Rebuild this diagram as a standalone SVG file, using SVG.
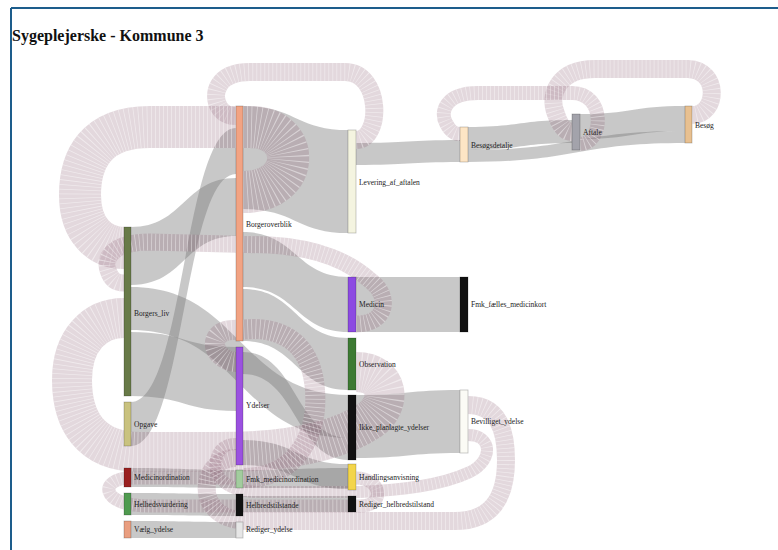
<svg xmlns="http://www.w3.org/2000/svg" xmlns:xlink="http://www.w3.org/1999/xlink" width="778" height="550" viewBox="0 0 778 550">
<style>
.lk{fill:#767676;fill-opacity:0.4;stroke:none}
.lp{fill:none;stroke:#8a5a72;stroke-opacity:0.24}
.sg{fill:none;stroke:#ffffff;stroke-opacity:0.45;stroke-dasharray:0.8 3.2}
.nd{stroke:#000;stroke-opacity:0.25;stroke-width:0.8}
.lb{font-family:"Liberation Serif","Times New Roman",serif;font-size:7.5px;fill:#222}
.tt{font-family:"Liberation Serif","Times New Roman",serif;font-size:16px;font-weight:bold;fill:#111}
</style>
<defs>
<path id="p1" d="M 692 115 C 718 115, 720 70, 688 69 L 595 69 C 558 69, 548 95, 556 114 C 560 126, 565 132, 572 132"/>
<path id="p2" d="M 580 144 C 604 144, 606 93, 572 93 L 478 93 C 445 93, 440 112, 446 123 C 450 131, 454 134, 460 134"/>
<path id="p3" d="M 356 140 C 382 140, 382 72, 345 72 L 250 72 C 216 72, 212 95, 219 107 C 223 114, 229 116, 236 116"/>
<path id="p4" d="M 243 192 C 302 192, 302 127, 250 127 L 150 127 C 95 127, 80 160, 80 195 C 80 230, 100 248, 124 248"/>
<path id="p5" d="M 356 324 C 388 324, 390 296, 372 282 C 350 262, 320 248, 270 245 L 150 242 C 112 242, 104 258, 108 270 C 111 280, 116 283, 124 283"/>
<path id="p6" d="M 356 372 C 390 372, 392 405, 370 420 C 340 440, 290 452, 220 452 L 140 452 C 90 452, 72 420, 72 380 C 72 340, 95 318, 124 318"/>
<path id="p7" d="M 356 478 C 382 478, 386 506, 360 506 L 150 506 C 98 506, 100 478, 130 478 L 236 478"/>
<path id="p8" d="M 243 478 C 300 478, 318 430, 315 390 C 312 350, 290 330, 255 329 L 232 330 C 215 331, 210 345, 220 355 C 225 360, 230 362, 236 362"/>
<path id="p9" d="M 468 405 C 498 405, 506 430, 506 460 C 506 500, 490 521, 455 521 L 250 521 C 215 521, 205 500, 207 485 C 209 468, 220 458, 236 458"/>
<path id="p10" d="M 468 435 C 492 435, 494 460, 470 472 C 440 486, 400 490, 360 492 L 260 492 C 225 492, 212 475, 216 460 C 219 448, 226 444, 236 444"/>
</defs>
<g id="frame">
<line x1="11" y1="8" x2="778" y2="8" stroke="#1d5d8c" stroke-width="2"/>
<line x1="11" y1="8" x2="11" y2="550" stroke="#1d5d8c" stroke-width="2"/>
<text class="tt" x="12" y="41">Sygeplejerske - Kommune 3</text>
</g>
<g id="links">
<path class="lk" d="M 131 402 C 184 402, 184 128, 236 128 L 236 174 C 184 174, 184 446, 131 446 Z"/>
<path class="lk" d="M 131 227 C 184 227, 184 178, 236 178 L 236 236 C 184 236, 184 285, 131 285 Z"/>
<path class="lk" d="M 131 287 C 240 287, 240 395, 348 395 L 348 438 C 240 438, 240 330, 131 330 Z"/>
<path class="lk" d="M 131 332 C 184 332, 184 347, 236 347 L 236 411 C 184 411, 184 396, 131 396 Z"/>
<path class="lk" d="M 243 106 C 296 106, 296 130, 348 130 L 348 233 C 296 233, 296 209, 243 209 Z"/>
<path class="lk" d="M 243 232 C 296 232, 296 277, 348 277 L 348 332 C 296 332, 296 287, 243 287 Z"/>
<path class="lk" d="M 243 289 C 296 289, 296 338, 348 338 L 348 390 C 296 390, 296 341, 243 341 Z"/>
<path class="lk" d="M 243 352 C 296 352, 296 438, 348 438 L 348 460 C 296 460, 296 374, 243 374 Z"/>
<path class="lk" d="M 243 440 C 296 440, 296 464, 348 464 L 348 489 C 296 489, 296 465, 243 465 Z"/>
<path class="lk" d="M 243 470 C 296 470, 296 468, 348 468 L 348 488 C 296 488, 296 488, 243 488 Z"/>
<path class="lk" d="M 243 496 C 296 496, 296 496, 348 496 L 348 512 C 296 512, 296 512, 243 512 Z"/>
<path class="lk" d="M 131 468 C 184 468, 184 470, 236 470 L 236 488 C 184 488, 184 487, 131 487 Z"/>
<path class="lk" d="M 131 493 C 184 493, 184 494, 236 494 L 236 516 C 184 516, 184 515, 131 515 Z"/>
<path class="lk" d="M 131 521 C 184 521, 184 522, 236 522 L 236 538 C 184 538, 184 538, 131 538 Z"/>
<path class="lk" d="M 356 277 C 408 277, 408 277, 460 277 L 460 332 C 408 332, 408 332, 356 332 Z"/>
<path class="lk" d="M 356 395 C 408 395, 408 390, 460 390 L 460 453 C 408 453, 408 458, 356 458 Z"/>
<path class="lk" d="M 356 143 C 408 143, 408 140, 460 140 L 460 162 C 408 162, 408 165, 356 165 Z"/>
<path class="lk" d="M 468 127 C 520 127, 520 120, 572 120 L 572 143 C 520 143, 520 150, 468 150 Z"/>
<path class="lk" d="M 468 150 C 576 150, 576 131, 685 131 L 685 143 C 576 143, 576 162, 468 162 Z"/>
<path class="lk" d="M 580 114 C 632 114, 632 106, 685 106 L 685 131 C 632 131, 632 139, 580 139 Z"/>
<use xlink:href="#p1" class="lp" stroke-width="18"/><use xlink:href="#p1" class="sg" stroke-width="18"/>
<use xlink:href="#p2" class="lp" stroke-width="14"/><use xlink:href="#p2" class="sg" stroke-width="14"/>
<use xlink:href="#p3" class="lp" stroke-width="18"/><use xlink:href="#p3" class="sg" stroke-width="18"/>
<use xlink:href="#p4" class="lp" stroke-width="42"/><use xlink:href="#p4" class="sg" stroke-width="42"/>
<use xlink:href="#p5" class="lp" stroke-width="17"/><use xlink:href="#p5" class="sg" stroke-width="17"/>
<use xlink:href="#p6" class="lp" stroke-width="40"/><use xlink:href="#p6" class="sg" stroke-width="40"/>
<use xlink:href="#p7" class="lp" stroke-width="13"/><use xlink:href="#p7" class="sg" stroke-width="13"/>
<use xlink:href="#p8" class="lp" stroke-width="20"/><use xlink:href="#p8" class="sg" stroke-width="20"/>
<use xlink:href="#p9" class="lp" stroke-width="18"/><use xlink:href="#p9" class="sg" stroke-width="18"/>
<use xlink:href="#p10" class="lp" stroke-width="12"/><use xlink:href="#p10" class="sg" stroke-width="12"/>
</g>
<g id="node-borgers_liv"><rect class="nd" x="124" y="227" width="7" height="169" fill="#687a48"/><text class="lb" x="134" y="316">Borgers_liv</text></g>
<g id="node-opgave"><rect class="nd" x="124" y="402" width="7" height="44" fill="#c9c27f"/><text class="lb" x="134" y="427">Opgave</text></g>
<g id="node-medicinordination"><rect class="nd" x="124" y="468" width="7" height="19" fill="#9a2020"/><text class="lb" x="134" y="480">Medicinordination</text></g>
<g id="node-helhedsvurdering"><rect class="nd" x="124" y="493" width="7" height="22" fill="#4f9a4f"/><text class="lb" x="134" y="507">Helhedsvurdering</text></g>
<g id="node-vaelg_ydelse"><rect class="nd" x="124" y="521" width="7" height="17" fill="#e99e80"/><text class="lb" x="134" y="532">Vælg_ydelse</text></g>
<g id="node-borgeroverblik"><rect class="nd" x="236" y="106" width="7" height="235" fill="#f2a383"/><text class="lb" x="246" y="227">Borgeroverblik</text></g>
<g id="node-ydelser"><rect class="nd" x="236" y="347" width="7" height="118" fill="#9b51e0"/><text class="lb" x="246" y="408">Ydelser</text></g>
<g id="node-fmk_medicinordination"><rect class="nd" x="236" y="470" width="7" height="18" fill="#a2cc9e"/><text class="lb" x="246" y="482">Fmk_medicinordination</text></g>
<g id="node-helbredstilstande"><rect class="nd" x="236" y="494" width="7" height="22" fill="#111"/><text class="lb" x="246" y="508">Helbredstilstande</text></g>
<g id="node-rediger_ydelse"><rect class="nd" x="236" y="522" width="7" height="16" fill="#e6e6e6"/><text class="lb" x="246" y="532">Rediger_ydelse</text></g>
<g id="node-levering_af_aftalen"><rect class="nd" x="348" y="130" width="8" height="103" fill="#f4f4e0"/><text class="lb" x="359" y="185">Levering_af_aftalen</text></g>
<g id="node-medicin"><rect class="nd" x="348" y="277" width="8" height="55" fill="#8c4ae2"/><text class="lb" x="359" y="307">Medicin</text></g>
<g id="node-observation"><rect class="nd" x="348" y="338" width="8" height="52" fill="#3d7a33"/><text class="lb" x="359" y="367">Observation</text></g>
<g id="node-ikke_planlagte_ydelser"><rect class="nd" x="348" y="395" width="8" height="65" fill="#111"/><text class="lb" x="359" y="430">Ikke_planlagte_ydelser</text></g>
<g id="node-handlingsanvisning"><rect class="nd" x="348" y="464" width="8" height="26" fill="#f3d54a"/><text class="lb" x="359" y="480">Handlingsanvisning</text></g>
<g id="node-rediger_helbredstilstand"><rect class="nd" x="348" y="496" width="8" height="16" fill="#111"/><text class="lb" x="359" y="507">Rediger_helbredstilstand</text></g>
<g id="node-besoegsdetalje"><rect class="nd" x="460" y="127" width="8" height="35" fill="#fde5c5"/><text class="lb" x="471" y="148">Besøgsdetalje</text></g>
<g id="node-fmk_faelles_medicinkort"><rect class="nd" x="460" y="277" width="8" height="55" fill="#111"/><text class="lb" x="471" y="307">Fmk_fælles_medicinkort</text></g>
<g id="node-bevilliget_ydelse"><rect class="nd" x="460" y="390" width="8" height="63" fill="#fbfbf5"/><text class="lb" x="471" y="424">Bevilliget_ydelse</text></g>
<g id="node-aftale"><rect class="nd" x="572" y="114" width="8" height="36" fill="#a3a3ab"/><text class="lb" x="583" y="135">Aftale</text></g>
<g id="node-besoeg"><rect class="nd" x="685" y="106" width="7" height="37" fill="#e8c090"/><text class="lb" x="695" y="128">Besøg</text></g>
</svg>
